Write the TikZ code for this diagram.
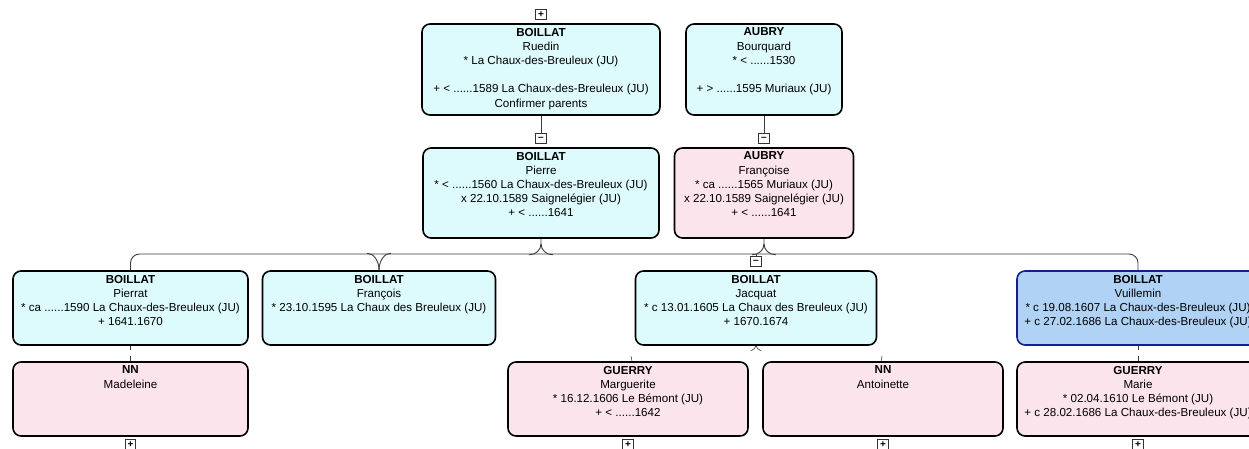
\documentclass[tikz,border=0pt]{standalone}
\usepackage{fontspec}
\setmainfont{Liberation Sans}
\usetikzlibrary{positioning}

\definecolor{malefill}{RGB}{221,250,253}
\definecolor{femfill}{RGB}{252,228,236}
\definecolor{selfill}{RGB}{176,210,244}
\definecolor{selborder}{RGB}{20,30,140}
\definecolor{linkgray}{RGB}{60,60,60}

\tikzset{
  fiche/.style={draw, rounded corners=8pt, line width=1.6pt, inner sep=0pt},
  male/.style={fiche, fill=malefill},
  female/.style={fiche, fill=femfill},
  chosen/.style={fiche, fill=selfill, draw=selborder},
  txt/.style={anchor=north, align=center, inner sep=0pt, yshift=-4.5pt,
    font=\fontsize{11.6}{14.2}\selectfont},
  toggle/.style={draw=black!80, fill=white, line width=0.9pt, minimum size=10.5pt,
    inner sep=0pt, font=\fontsize{10}{10}\selectfont\bfseries},
  link/.style={draw=linkgray, line width=0.9pt},
  faint/.style={draw=linkgray, line width=0.6pt},
}

\begin{document}
\begin{tikzpicture}[x=1pt,y=-1pt]
  \useasboundingbox (0,0) rectangle (1249,448);
  \clip (0,0) rectangle (1249,448);

  % grandparents
  \node[male, minimum width=238pt, minimum height=91pt,
    label={[txt]north:{\textbf{BOILLAT}\\Ruedin\\* La Chaux-des-Breuleux (JU)\\[14.2pt]+ < ......1589 La Chaux-des-Breuleux (JU)\\Confirmer parents}}]
    (ruedin) at (541,69.5) {};
  \node[male, minimum width=156pt, minimum height=91pt,
    label={[txt]north:{\textbf{AUBRY}\\Bourquard\\* < ......1530\\[14.2pt]+ > ......1595 Muriaux (JU)}}]
    (bourquard) at (764,69.5) {};

  % parents
  \node[male, minimum width=236pt, minimum height=90pt,
    label={[txt]north:{\textbf{BOILLAT}\\Pierre\\* < ......1560 La Chaux-des-Breuleux (JU)\\x 22.10.1589 Saignelégier (JU)\\+ < ......1641}}]
    (pierre) at (541,193) {};
  \node[female, minimum width=179pt, minimum height=90pt,
    label={[txt]north:{\textbf{AUBRY}\\Françoise\\* ca ......1565 Muriaux (JU)\\x 22.10.1589 Saignelégier (JU)\\+ < ......1641}}]
    (francoise) at (764,193) {};

  % children
  \node[male, minimum width=235pt, minimum height=74pt,
    label={[txt]north:{\textbf{BOILLAT}\\Pierrat\\* ca ......1590 La Chaux-des-Breuleux (JU)\\+ 1641.1670}}]
    (pierrat) at (130.5,308) {};
  \node[male, minimum width=233pt, minimum height=74pt,
    label={[txt]north:{\textbf{BOILLAT}\\François\\* 23.10.1595 La Chaux des Breuleux (JU)}}]
    (francois) at (379,308) {};
  \node[male, minimum width=241pt, minimum height=74pt,
    label={[txt]north:{\textbf{BOILLAT}\\Jacquat\\* c 13.01.1605 La Chaux des Breuleux (JU)\\+ 1670.1674}}]
    (jacquat) at (756,308) {};
  \node[chosen, minimum width=242pt, minimum height=74pt,
    label={[txt]north:{\textbf{BOILLAT}\\Vuillemin\\* c 19.08.1607 La Chaux-des-Breuleux (JU)\\+ c 27.02.1686 La Chaux-des-Breuleux (JU)}}]
    (vuillemin) at (1138,308) {};

  % spouses
  \node[female, minimum width=235pt, minimum height=74pt,
    label={[txt]north:{\textbf{NN}\\Madeleine}}]
    (madeleine) at (130.5,399) {};
  \node[female, minimum width=240pt, minimum height=74pt,
    label={[txt]north:{\textbf{GUERRY}\\Marguerite\\* 16.12.1606 Le Bémont (JU)\\+ < ......1642}}]
    (marguerite) at (628,399) {};
  \node[female, minimum width=240pt, minimum height=74pt,
    label={[txt]north:{\textbf{NN}\\Antoinette}}]
    (antoinette) at (883,399) {};
  \node[female, minimum width=242pt, minimum height=74pt,
    label={[txt]north:{\textbf{GUERRY}\\Marie\\* 02.04.1610 Le Bémont (JU)\\+ c 28.02.1686 La Chaux-des-Breuleux (JU)}}]
    (marie) at (1138,399) {};

  % expand / collapse buttons
  \node[toggle, above=3pt of ruedin] (t-ruedin) {+};
  \node[toggle, above=3pt of pierre] (t-pierre) {–};
  \node[toggle, above=3pt of francoise] (t-francoise) {–};
  \node[toggle, above=3pt of jacquat] (t-jacquat) {–};
  \foreach \n in {madeleine,marguerite,antoinette,marie}
    \node[toggle, below=2.5pt of \n] (t-\n) {+};

  % lines
  \draw[link] (ruedin) -- (t-pierre);
  \draw[link] (bourquard) -- (t-francoise);
  \coordinate (bus) at (0,254);
  \draw[link, rounded corners=9pt] (pierrat.north) -- (pierrat.north |- bus)
    -- (vuillemin.north |- bus) -- (vuillemin.north);
  \foreach \p in {pierre,francoise} {
    \draw[link] (\p.south) -- ++(0,5) .. controls +(0,6) and +(7,0) .. +(-12,11);
    \draw[link] (\p.south) ++(0,5) .. controls +(0,6) and +(-7,0) .. +(12,11);
  }
  \draw[link] (francois.north) .. controls +(0,-9) and +(7,0) .. +(-12,-17);
  \draw[link] (francois.north) .. controls +(0,-9) and +(-7,0) .. +(12,-17);
  \draw[link] (t-jacquat) -- (t-jacquat |- bus);

  % marriages
  \draw[faint] (jacquat.south) .. controls +(0,2) and +(2,-1) .. +(-5,5);
  \draw[faint] (jacquat.south) .. controls +(0,2) and +(-2,-1) .. +(5,5);
  \draw[faint] ([xshift=4pt]marguerite.north) -- +(-1,-5);
  \draw[faint] ([xshift=-2pt]antoinette.north) -- +(1,-5);
  \draw[faint] (pierrat.south) -- +(0,4);
  \draw[faint] (madeleine.north) -- +(0,-5);
  \draw[faint] (vuillemin.south) -- +(0,4);
  \draw[faint] (marie.north) -- +(0,-5);
\end{tikzpicture}
\end{document}
